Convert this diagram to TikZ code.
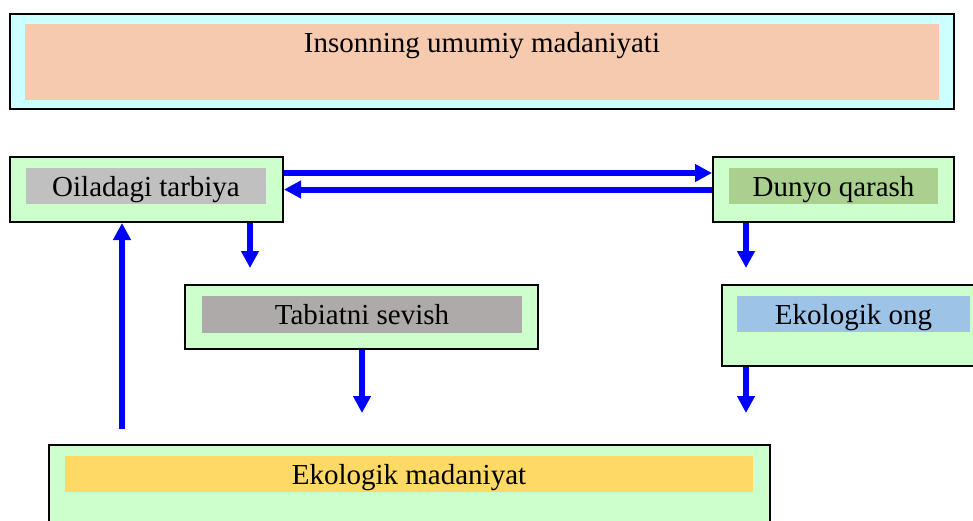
\documentclass[tikz,border=0pt]{standalone}
\usepackage{fontspec}
\setmainfont{Liberation Serif}
\usetikzlibrary{arrows.meta}
\definecolor{boxcyan}{HTML}{CCFFFF}
\definecolor{boxgreen}{HTML}{CCFFCC}
\definecolor{peach}{HTML}{F6CAAE}
\definecolor{greylabel}{HTML}{C0C0C0}
\definecolor{greenlabel}{HTML}{A9D08E}
\definecolor{taupe}{HTML}{AEAAAA}
\definecolor{bluelabel}{HTML}{9DC3E6}
\definecolor{yellowlabel}{HTML}{FFD966}
\tikzset{
  outer/.style={draw=black,line width=2pt,fill=boxgreen,inner sep=0pt},
  inner/.style={inner sep=0pt,text height=20pt,text depth=0pt,font=\fontsize{29}{34}\selectfont},
  arr/.style={blue,line width=6pt,-{Triangle[length=17pt,width=17pt]}}
}
\begin{document}
\begin{tikzpicture}[x=1pt,y=-1pt]
\clip (0,0) rectangle (973,520);
% Top box
\node[outer,fill=boxcyan,minimum width=944pt,minimum height=95pt] (umumiy) at (482,61.5) {};
\node[inner,fill=peach,minimum width=914pt,minimum height=76pt] (umumiyL) at (482,62) {};
\node[inner] (umumiyT) at (482,42) {Insonning umumiy madaniyati};
% Boxes
\node[outer,minimum width=273pt,minimum height=65pt] (oila) at (146.5,189.5) {};
\node[inner,fill=greylabel,minimum width=240pt,minimum height=36pt] (oilaL) at (146,186) {Oiladagi tarbiya};
\node[outer,minimum width=241pt,minimum height=65pt] (dunyo) at (833.5,189.5) {};
\node[inner,fill=greenlabel,minimum width=209pt,minimum height=36pt] (dunyoL) at (833.5,186) {Dunyo qarash};
\node[outer,minimum width=353pt,minimum height=64pt] (tabiat) at (361.5,317) {};
\node[inner,fill=taupe,minimum width=320pt,minimum height=37pt] (tabiatL) at (362,314) {Tabiatni sevish};
\node[outer,minimum width=273pt,minimum height=81pt] (ong) at (858.5,325.5) {};
\node[inner,fill=bluelabel,minimum width=233pt,minimum height=36pt] (ongL) at (853.5,314) {Ekologik ong};
\node[outer,minimum width=721pt,minimum height=100pt] (madaniyat) at (409.5,495) {};
\node[inner,fill=yellowlabel,minimum width=688pt,minimum height=36pt] (madaniyatL) at (409,474) {Ekologik madaniyat};
% Free arrow ends
\coordinate (oilaD) at (250,268);
\coordinate (dunyoD) at (746,268);
\coordinate (tabiatD) at (362,413);
\coordinate (ongD) at (746,413);
\coordinate (madaniyatU) at (122,429);
% Arrows
\draw[arr] ([yshift=16.5pt]oila.east) -- ([yshift=16.5pt]dunyo.west);
\draw[arr] (dunyo.west) -- (oila.east);
\foreach \a/\b in {oila/oilaD,dunyo/dunyoD,tabiat/tabiatD,ong/ongD}
  {\draw[arr] (\b |- \a.south) -- (\b);}
\draw[arr] (madaniyatU) -- (madaniyatU |- oila.south);
\end{tikzpicture}
\end{document}
